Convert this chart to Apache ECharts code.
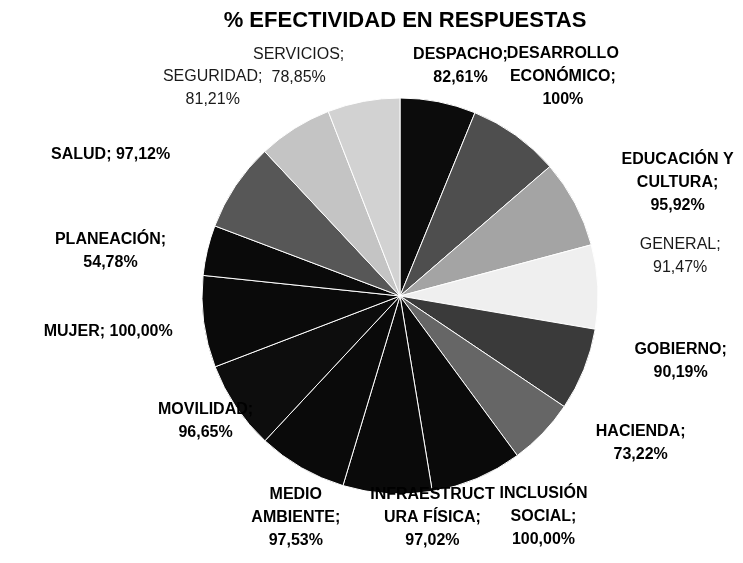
<!DOCTYPE html>
<html>
<head>
<meta charset="utf-8">
<title>% EFECTIVIDAD EN RESPUESTAS</title>
<script src="https://cdn.jsdelivr.net/npm/echarts@6/dist/echarts.min.js"></script>
<style>
  html, body { margin: 0; padding: 0; background: #fff; }
  #main { width: 743px; height: 563px; }
</style>
</head>
<body>
<div id="main"></div>
<script>
// datos del grafico (% efectividad por dependencia)
var categories = ['DESPACHO', 'DESARROLLO ECONÓMICO', 'EDUCACIÓN Y CULTURA', 'GENERAL', 'GOBIERNO',
  'HACIENDA', 'INCLUSIÓN SOCIAL', 'INFRAESTRUCTURA FÍSICA', 'MEDIO AMBIENTE', 'MOVILIDAD',
  'MUJER', 'PLANEACIÓN', 'SALUD', 'SEGURIDAD', 'SERVICIOS'];
var values = [82.61, 100, 95.92, 91.47, 90.19, 73.22, 100, 97.02, 97.53, 96.65, 100, 54.78, 97.12, 81.21, 78.85];
// texto de las etiquetas tal como sale en el grafico
var labelNames = ['DESPACHO;', 'DESARROLLO\nECONÓMICO;', 'EDUCACIÓN Y\nCULTURA;', 'GENERAL;', 'GOBIERNO;',
  'HACIENDA;', 'INCLUSIÓN\nSOCIAL;', 'INFRAESTRUCT\nURA FÍSICA;', 'MEDIO\nAMBIENTE;', 'MOVILIDAD;',
  'MUJER;', 'PLANEACIÓN;', 'SALUD;', 'SEGURIDAD;', 'SERVICIOS;'];
var valueLabels = ['82,61%', '100%', '95,92%', '91,47%', '90,19%', '73,22%', '100,00%', '97,02%',
  '97,53%', '96,65%', '100,00%', '54,78%', '97,12%', '81,21%', '78,85%'];

// estilo: tonos de gris de cada porcion
var sliceColors = ['#0c0c0c', '#4e4e4e', '#a4a4a4', '#efefef', '#3a3a3a', '#666666', '#0a0a0a', '#0a0a0a',
  '#0a0a0a', '#0d0d0d', '#0a0a0a', '#0a0a0a', '#575757', '#c4c4c4', '#d2d2d2'];
// posicion de etiqueta: [distancia al centro, giro respecto al angulo medio]
var labelSpots = [[238, 3.6], [273, 0.9], [300, 5.6], [283, -5.4], [288, -8.8], [282, -12.4],
  [263, -10.2], [224, -12], [245, -4.7], [231, 1.3], [294, 0.5], [293, -4.5], [322, -7.8],
  [280, -9.8], [251, -13.2]];
var oneLine = { 'SALUD': true, 'MUJER': true };
var lightText = { 'SERVICIOS': true, 'SEGURIDAD': true, 'GENERAL': true };

var cx = 400, cy = 296, radius = 198;

var total = 0;
for (var i = 0; i < values.length; i++) total += values[i];
var midAngles = [];// angulo medio de cada porcion (grados desde arriba, horario)
var acc = 0;
for (var i = 0; i < values.length; i++) {
  midAngles.push((acc + values[i] / 2) / total * 360);
  acc += values[i];
}

var pieData = [];
for (var i = 0; i < categories.length; i++) {
  pieData.push({
    name: categories[i],
    value: values[i],
    itemStyle: { color: sliceColors[i] },
    label: {
      formatter: labelNames[i] + (oneLine[categories[i]] ? ' ' : '\n') + valueLabels[i],
      fontWeight: lightText[categories[i]] ? 'normal' : 'bold',
      color: lightText[categories[i]] ? '#1a1a1a' : '#000'
    }
  });
}

var myChart = echarts.init(document.getElementById('main'), null, { renderer: 'canvas' });

var option = {
  backgroundColor: '#ffffff',
  animation: false,
  title: {
    text: '% EFECTIVIDAD EN RESPUESTAS',
    left: cx,
    textAlign: 'center',
    top: 5,
    textStyle: {
      fontFamily: 'Liberation Sans, Arial, sans-serif',
      fontSize: 22,
      fontWeight: 'bold',
      color: '#000'
    }
  },
  series: [{
    type: 'pie',
    center: [cx, cy],
    radius: radius,
    startAngle: 90,
    clockwise: true,
    avoidLabelOverlap: false,
    itemStyle: {
      borderColor: '#ffffff',
      borderWidth: 1
    },
    label: {
      show: true,
      position: 'outside',
      fontFamily: 'Liberation Sans, Arial, sans-serif',
      fontSize: 16,
      lineHeight: 23,
      align: 'center'
    },
    labelLine: { show: false },
    labelLayout: function (params) {
      var k = params.dataIndex;
      var ang = (midAngles[k] + labelSpots[k][1]) * Math.PI / 180;
      return {
        x: cx + labelSpots[k][0] * Math.sin(ang),
        y: cy - labelSpots[k][0] * Math.cos(ang),
        align: 'center',
        verticalAlign: 'middle',
        hideOverlap: false,
        moveOverlap: null
      };
    },
    emphasis: { disabled: true },
    data: pieData
  }]
};

myChart.setOption(option);
</script>
</body>
</html>
